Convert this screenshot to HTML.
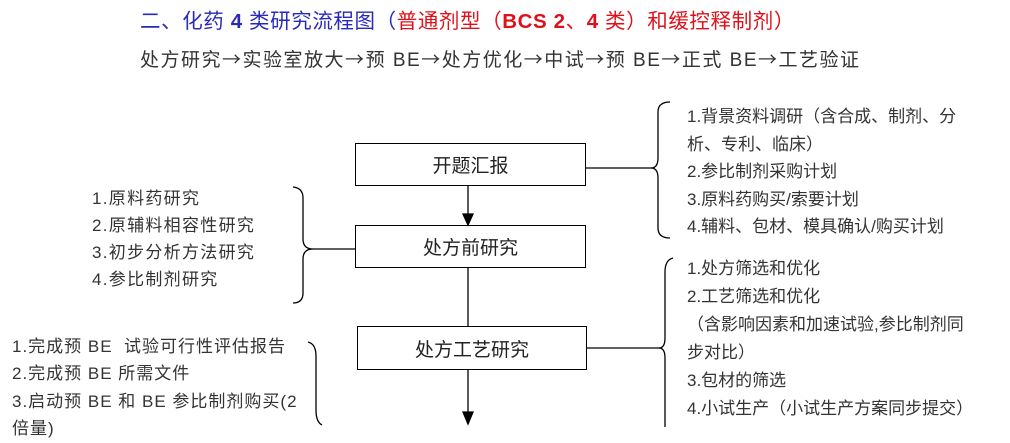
<!DOCTYPE html>
<html><head><meta charset="utf-8"><style>
body{margin:0;width:1010px;height:427px;background:#fff;overflow:hidden;position:relative;font-family:"Liberation Sans","Noto Sans CJK SC",sans-serif;}
.t{position:absolute;white-space:nowrap;}
.a{font-family:"Noto Sans CJK SC",sans-serif;}
.l{font-size:17px;color:#333;line-height:27.5px;position:absolute;white-space:nowrap;}
.box{position:absolute;border:1.5px solid #000;box-sizing:border-box;display:flex;align-items:center;justify-content:center;font-size:19px;color:#222;}
</style></head><body>
<div class="t" style="left:140px;top:4px;font-size:20.5px;color:#2a2ab8;letter-spacing:0.6px">二、化药 <b>4</b> 类研究流程图（<span style="color:#e0101a">普通剂型（<b>BCS 2</b>、<b>4</b> 类）和缓控释制剂）</span></div>
<div class="t" style="left:140px;top:45px;font-size:19px;color:#333;letter-spacing:1.5px">处方研究<span class="a">→</span>实验室放大<span class="a">→</span>预 BE<span class="a">→</span>处方优化<span class="a">→</span>中试<span class="a">→</span>预 BE<span class="a">→</span>正式 BE<span class="a">→</span>工艺验证</div>

<div class="box" style="left:355px;top:143px;width:231px;height:43px">开题汇报</div>
<div class="box" style="left:355px;top:225px;width:231px;height:43px">处方前研究</div>
<div class="box" style="left:357px;top:326px;width:230px;height:44px">处方工艺研究</div>

<svg width="1010" height="427" style="position:absolute;left:0;top:0" fill="none" stroke="#000" stroke-width="1.3">
<line x1="468" y1="186" x2="468" y2="216"/><polygon points="463,214 473,214 468,225" fill="#000"/>
<line x1="468" y1="268" x2="468" y2="326"/>
<line x1="468" y1="370" x2="468" y2="414"/><polygon points="463,412 473,412 468,424" fill="#000"/>
<line x1="586" y1="168" x2="652" y2="168"/>
<path d="M670,102 Q658,102 658,112 L658,158 Q658,168 651,168 Q658,168 658,178 L658,228 Q658,238 670,238"/>
<line x1="586" y1="348" x2="660" y2="348"/>
<path d="M673,258 Q665,260 665,272 L665,338 Q665,348 659,348 Q665,348 665,358 L665,430"/>
<line x1="355" y1="249" x2="313" y2="249"/>
<path d="M293,187 Q303,188 303,198 L303,239 Q303,249 313,249 Q303,249 303,259 L303,293 Q303,303 293,303"/>
<path d="M308,342 Q316,344 316,356 L316,410 Q316,422 322,425"/>
</svg>

<div class="l" style="left:687px;top:103px">1.背景资料调研（含合成、制剂、分</div>
<div class="l" style="left:687px;top:131px">析、专利、临床）</div>
<div class="l" style="left:687px;top:158px">2.参比制剂采购计划</div>
<div class="l" style="left:687px;top:186px">3.原料药购买/索要计划</div>
<div class="l" style="left:687px;top:213px">4.辅料、包材、模具确认/购买计划</div>

<div class="l" style="left:687px;top:255px">1.处方筛选和优化</div>
<div class="l" style="left:687px;top:283px">2.工艺筛选和优化</div>
<div class="l" style="left:687px;top:311px">（含影响因素和加速试验,参比制剂同</div>
<div class="l" style="left:687px;top:339px">步对比）</div>
<div class="l" style="left:687px;top:367px">3.包材的筛选</div>
<div class="l" style="left:687px;top:395px">4.小试生产（小试生产方案同步提交）</div>

<div class="l" style="left:92px;top:185px;letter-spacing:1.3px">1.原料药研究</div>
<div class="l" style="left:92px;top:212px;letter-spacing:1.3px">2.原辅料相容性研究</div>
<div class="l" style="left:92px;top:239px;letter-spacing:1.3px">3.初步分析方法研究</div>
<div class="l" style="left:92px;top:266px;letter-spacing:1.3px">4.参比制剂研究</div>

<div class="l" style="left:12px;top:333px;letter-spacing:1px">1.完成预 BE&nbsp; 试验可行性评估报告</div>
<div class="l" style="left:12px;top:360px;letter-spacing:1px">2.完成预 BE 所需文件</div>
<div class="l" style="left:12px;top:388px;letter-spacing:1px">3.启动预 BE 和 BE 参比制剂购买(2</div>
<div class="l" style="left:12px;top:415px;letter-spacing:1px">倍量)</div>
</body></html>
